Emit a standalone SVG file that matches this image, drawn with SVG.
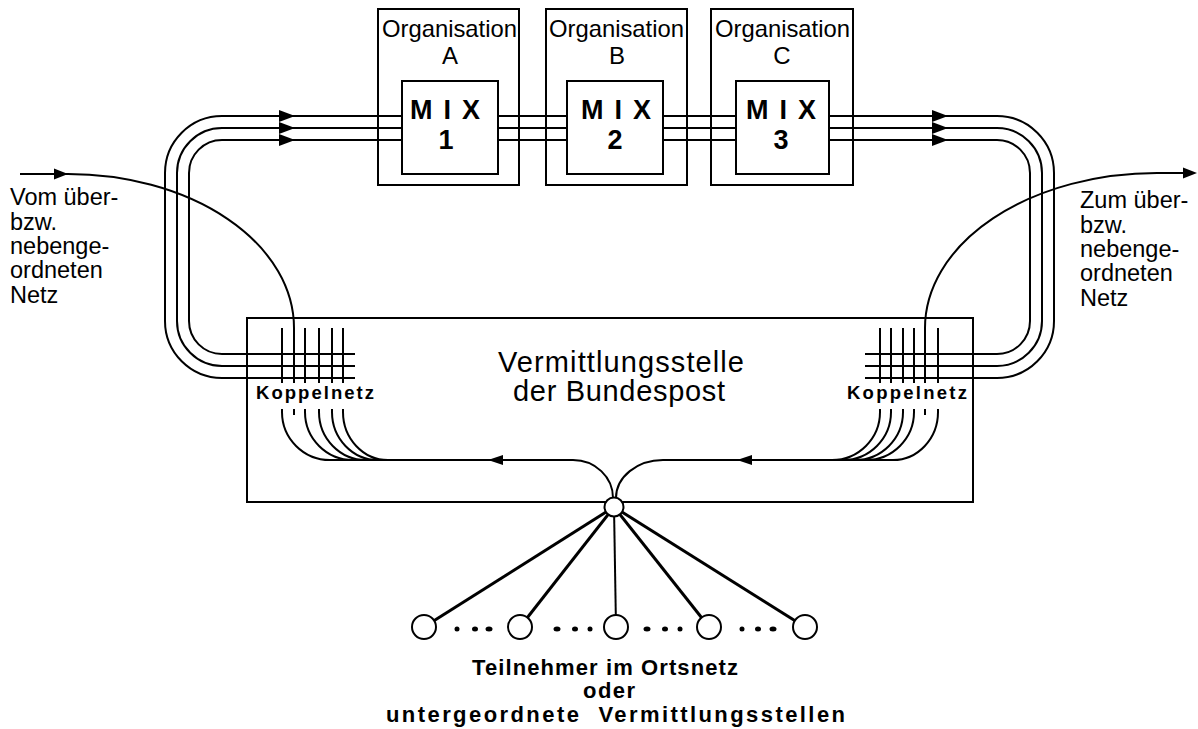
<svg xmlns="http://www.w3.org/2000/svg" width="1198" height="729" viewBox="0 0 1198 729">
<style>
.ln{fill:none;stroke:#000;stroke-width:2}
.bx{fill:#fff;stroke:#000;stroke-width:2}
.sp{stroke:#000;stroke-width:3}
.t{font-family:"Liberation Sans",Arial,Helvetica,sans-serif;fill:#000}
.b{font-weight:bold}
</style>
<defs>
<path id="ar" d="M0,0 L-16,-6 L-16,6 Z" fill="#000"/>
<path id="al" d="M0,0 L15,-5 L15,5 Z" fill="#000"/>
<path id="as" d="M0,0 L-14,-5.5 L-14,5.5 Z" fill="#000"/>
</defs>
<rect width="1198" height="729" fill="#fff"/>

<g id="vermittlungsstelle">
<rect x="247" y="318" width="726" height="184" class="bx"/>
<text class="t" x="498" y="372" font-size="29" textLength="246" lengthAdjust="spacing">Vermittlungsstelle</text>
<text class="t" x="513" y="401" font-size="29" textLength="212" lengthAdjust="spacing">der Bundespost</text>
</g>

<g id="orgA">
<rect x="378" y="9" width="141" height="176" class="bx"/>
<text class="t" x="382" y="37" font-size="24" textLength="135" lengthAdjust="spacingAndGlyphs">Organisation</text>
<text class="t" x="450" y="64" font-size="24" text-anchor="middle">A</text>
<rect x="402" y="81" width="96" height="93" class="bx"/>
<text class="t b" x="410" y="119" font-size="27" textLength="70" lengthAdjust="spacing">M I X</text>
<text class="t b" x="446" y="149" font-size="27" text-anchor="middle">1</text>
</g>
<g id="orgB">
<rect x="546" y="9" width="141" height="176" class="bx"/>
<text class="t" x="549" y="37" font-size="24" textLength="135" lengthAdjust="spacingAndGlyphs">Organisation</text>
<text class="t" x="617" y="64" font-size="24" text-anchor="middle">B</text>
<rect x="567" y="81" width="96" height="93" class="bx"/>
<text class="t b" x="581" y="119" font-size="27" textLength="70" lengthAdjust="spacing">M I X</text>
<text class="t b" x="615" y="149" font-size="27" text-anchor="middle">2</text>
</g>
<g id="orgC">
<rect x="711" y="9" width="142" height="176" class="bx"/>
<text class="t" x="715" y="37" font-size="24" textLength="135" lengthAdjust="spacingAndGlyphs">Organisation</text>
<text class="t" x="782" y="64" font-size="24" text-anchor="middle">C</text>
<rect x="736" y="81" width="93" height="93" class="bx"/>
<text class="t b" x="746" y="119" font-size="27" textLength="70" lengthAdjust="spacing">M I X</text>
<text class="t b" x="781" y="149" font-size="27" text-anchor="middle">3</text>
</g>

<g id="connectors">
<path class="ln" d="M355 378 H222 A57 57 0 0 1 165 321 V173 A57 57 0 0 1 222 116 H402"/>
<path class="ln" d="M355 366 H222 A45 45 0 0 1 177 321 V173 A45 45 0 0 1 222 128 H402"/>
<path class="ln" d="M355 354 H222 A33 33 0 0 1 189 321 V173 A33 33 0 0 1 222 140 H402"/>
<path class="ln" d="M498 116 H567 M498 128 H567 M498 140 H567 M663 116 H736 M663 128 H736 M663 140 H736"/>
<path class="ln" d="M829 116 H997 A57 57 0 0 1 1054 173 V321 A57 57 0 0 1 997 378 H865"/>
<path class="ln" d="M829 128 H997 A45 45 0 0 1 1042 173 V321 A45 45 0 0 1 997 366 H865"/>
<path class="ln" d="M829 140 H997 A33 33 0 0 1 1030 173 V321 A33 33 0 0 1 997 354 H865"/>
<use href="#ar" x="295" y="116"/><use href="#ar" x="295" y="128"/><use href="#ar" x="295" y="140"/>
<use href="#ar" x="948" y="116"/><use href="#ar" x="948" y="128"/><use href="#ar" x="948" y="140"/>
<path class="ln" d="M20 174 H68 A226 154 0 0 1 294 328"/>
<use href="#as" x="68" y="174"/>
<path class="ln" d="M925 328 A232 155 0 0 1 1157 173 H1186"/>
<use href="#as" x="1197" y="173"/>
<path class="ln" d="M282 328 V383 M294 328 V383 M305 328 V383 M319 328 V383 M332 328 V383 M343 328 V383"/>
<path class="ln" d="M880 328 V383 M891 328 V383 M903 328 V383 M914 328 V383 M925 328 V383 M938 328 V383"/>
<path class="ln" d="M282 409 V412 A48 48 0 0 0 330 460 M294 409 V415 M305 409 V412 A48 48 0 0 0 353 460 M319 409 V412 A47 48 0 0 0 366 460 M332 409 V412 A46 48 0 0 0 378 460 M343 409 V412 A45 48 0 0 0 388 460"/>
<path class="ln" d="M330 460 H573 A40 38 0 0 1 613 498"/>
<use href="#al" x="488" y="460"/>
<path class="ln" d="M938 409 V412 A45 48 0 0 1 893 460 M925 409 V415 M914 409 V412 A48 48 0 0 1 866 460 M903 409 V412 A48 48 0 0 1 855 460 M891 409 V412 A48 48 0 0 1 843 460 M880 409 V412 A48 48 0 0 1 832 460"/>
<path class="ln" d="M893 460 H663 A47 38 0 0 0 616 498"/>
<use href="#al" x="737" y="460"/>
<line class="sp" x1="614" y1="507" x2="424" y2="627"/>
<line class="sp" x1="614" y1="507" x2="520" y2="627"/>
<line x1="614" y1="507" x2="616" y2="627" stroke="#000" stroke-width="2"/>
<line class="sp" x1="614" y1="507" x2="709" y2="627"/>
<line class="sp" x1="614" y1="507" x2="805" y2="627"/>
</g>

<g id="koppelnetz-left">
<text class="t b" x="256" y="399" font-size="18.5" textLength="118" lengthAdjust="spacing">Koppelnetz</text>
</g>
<g id="koppelnetz-right">
<text class="t b" x="847" y="399" font-size="18.5" textLength="120" lengthAdjust="spacing">Koppelnetz</text>
</g>

<g id="center-node">
<circle cx="614" cy="507" r="9.5" class="bx"/>
</g>

<g id="subscribers">
<circle cx="424" cy="627" r="12" class="bx"/>
<circle cx="520" cy="627" r="12" class="bx"/>
<circle cx="616" cy="627" r="12" class="bx"/>
<circle cx="709" cy="627" r="12" class="bx"/>
<circle cx="805" cy="627" r="12" class="bx"/>
<g fill="#000">
<ellipse cx="457" cy="629" rx="2.5" ry="2.5"/><ellipse cx="475" cy="629" rx="3" ry="2.5"/><ellipse cx="489" cy="629" rx="3.5" ry="2.5"/>
<ellipse cx="557" cy="629" rx="3.5" ry="2.5"/><ellipse cx="575" cy="629" rx="3" ry="2.5"/><ellipse cx="590" cy="629" rx="2.5" ry="2.5"/>
<ellipse cx="647" cy="629" rx="3.5" ry="2.5"/><ellipse cx="665" cy="629" rx="3" ry="2.5"/><ellipse cx="680" cy="629" rx="2.5" ry="2.5"/>
<ellipse cx="742" cy="629" rx="2.5" ry="2.5"/><ellipse cx="758" cy="629" rx="3" ry="2.5"/><ellipse cx="773" cy="629" rx="3.5" ry="2.5"/>
</g>
</g>

<g id="label-bottom">
<text class="t b" x="472" y="675" font-size="22" textLength="266" lengthAdjust="spacing">Teilnehmer im Ortsnetz</text>
<text class="t b" x="583" y="698" font-size="22" textLength="52" lengthAdjust="spacing">oder</text>
<text class="t b" x="386" y="722" font-size="22" textLength="459" lengthAdjust="spacing" xml:space="preserve">untergeordnete  Vermittlungsstellen</text>
</g>

<g id="label-left">
<text class="t" font-size="23.5"><tspan x="10" y="205">Vom über-</tspan><tspan x="10" y="230">bzw.</tspan><tspan x="10" y="254">nebenge-</tspan><tspan x="10" y="278">ordneten</tspan><tspan x="10" y="303">Netz</tspan></text>
</g>
<g id="label-right">
<text class="t" font-size="23.5"><tspan x="1080" y="208">Zum über-</tspan><tspan x="1080" y="233">bzw.</tspan><tspan x="1080" y="257">nebenge-</tspan><tspan x="1080" y="281">ordneten</tspan><tspan x="1080" y="306">Netz</tspan></text>
</g>
</svg>
